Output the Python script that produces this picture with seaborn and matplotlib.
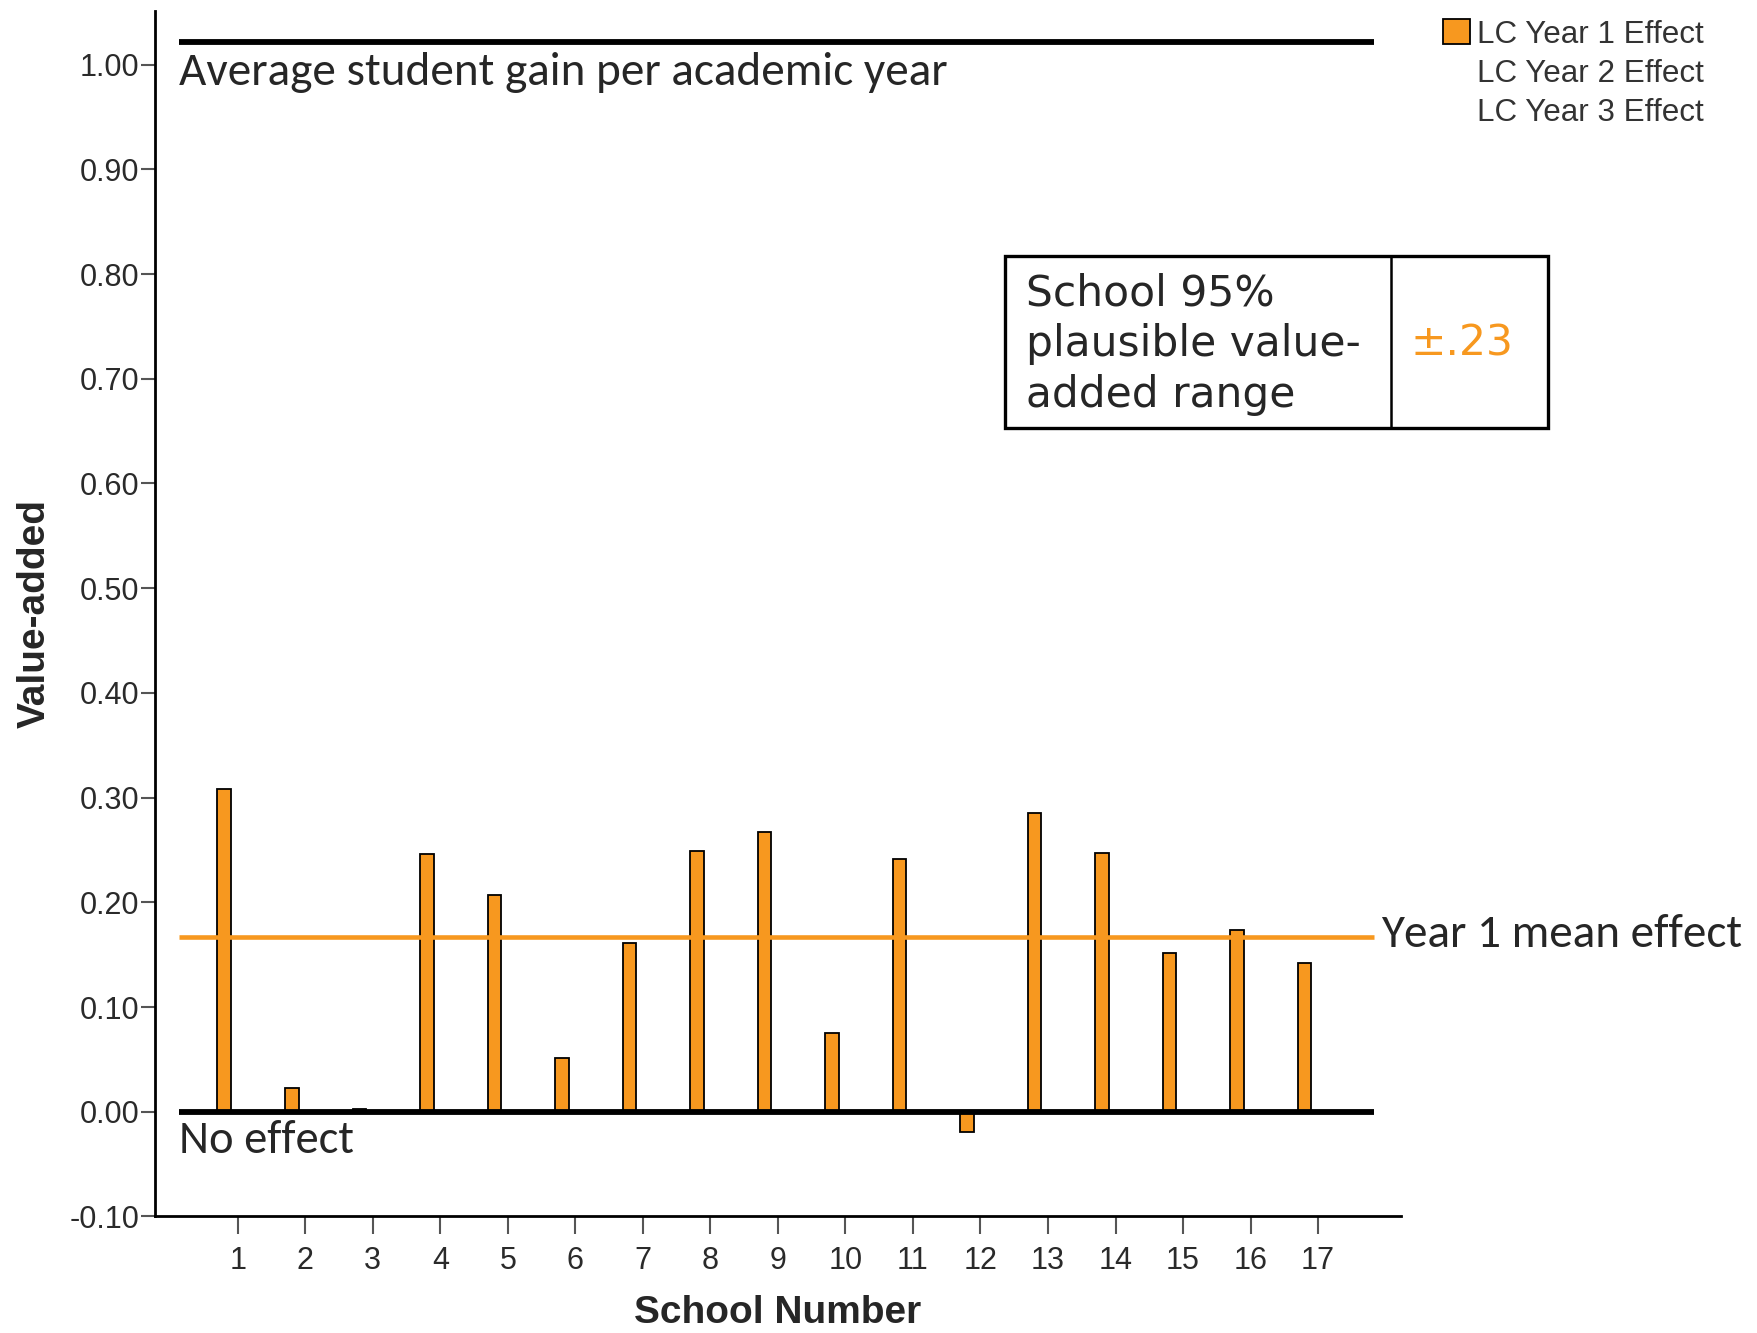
import pandas as pd
import numpy as np
import matplotlib.pyplot as plt
import seaborn as sns
import matplotlib.patches as mpatches

# Valores
schools = [str(i) for i in range(1, 18)]
year1_effect = [0.308, 0.023, 0.003, 0.246, 0.207, 0.051, 0.161, 0.249, 0.267,
                0.075, 0.241, -0.019, 0.285, 0.247, 0.152, 0.174, 0.142]
series = ["LC Year 1 Effect", "LC Year 2 Effect", "LC Year 3 Effect"]
year1_mean = 0.167
avg_gain = 1.022
y_ticks = [-0.10, 0.00, 0.10, 0.20, 0.30, 0.40, 0.50, 0.60, 0.70, 0.80, 0.90, 1.00]

ORANGE = "#F7981F"

df = pd.DataFrame({"School Number": schools,
                   "Serie": series[0],
                   "Value-added": year1_effect})

sns.set_theme(style="white")
plt.rcParams["font.family"] = ["Liberation Sans", "DejaVu Sans"]

fig = plt.figure(figsize=(17.58, 13.33), dpi=100)
ax = fig.add_axes([0.088, 0.0874, 0.709, 0.9042])

sns.barplot(data=df, x="School Number", y="Value-added", hue="Serie",
            hue_order=series, order=schools, width=0.6, dodge=True, saturation=1,
            palette={series[0]: ORANGE, series[1]: "white", series[2]: "white"},
            edgecolor="black", linewidth=1.3, legend=False, ax=ax)

ax.set_xlim(-1.23, 17.23)
ax.set_ylim(-0.10, 1.051)
ax.set_yticks(y_ticks)
ax.set_yticklabels([f"{v:.2f}" for v in y_ticks])

for lab in ax.get_xticklabels() + ax.get_yticklabels():
    lab.set_fontsize(22)
    lab.set_color("#2a2a2a")

ax.tick_params(axis="y", direction="out", length=10, width=1.5, color="#555555",
               pad=1, left=True)
ax.tick_params(axis="x", direction="out", length=13, width=1.5, color="#555555",
               pad=8, bottom=True)

for side in ["top", "right"]:
    ax.spines[side].set_visible(False)
for side in ["left", "bottom"]:
    ax.spines[side].set_color("black")
    ax.spines[side].set_linewidth(2)

ax.set_xlabel("School Number", fontsize=28, fontweight="bold", labelpad=14)
ax.set_ylabel("Value-added", fontsize=28, fontweight="bold", labelpad=12)

# Líneas de referencia
ax.hlines(avg_gain, -0.863, 16.83, color="black", linewidth=4.2, clip_on=False)
ax.hlines(0.0, -0.863, 16.83, color="black", linewidth=4.2, zorder=4)
ax.hlines(year1_mean, -0.863, 16.83, color=ORANGE, linewidth=3.3, zorder=1)

calibri = ["Carlito", "Lato", "DejaVu Sans"]
ax.text(-0.863, 0.992, "Average student gain per academic year", family=calibri,
        fontsize=34, va="center", ha="left")
ax.text(-0.863, -0.027, "No effect", family=calibri, fontsize=33.5, va="center", ha="left")
ax.text(16.93, year1_mean + 0.002, "Year 1 mean effect", family=calibri, fontsize=34,
        va="center", ha="left", clip_on=False)

# Caja del rango plausible
box = mpatches.Rectangle((0.5714, 0.6787), 0.8808 - 0.5714, 0.8083 - 0.6787,
                         transform=fig.transFigure, fill=False, edgecolor="black",
                         linewidth=2.4)
fig.add_artist(box)
fig.add_artist(plt.Line2D([0.7915, 0.7915], [0.6787, 0.8083], transform=fig.transFigure,
                          color="black", linewidth=1.8))
fig.text(0.5836, 0.742, "School 95%\nplausible value-\nadded range",
         family=["DejaVu Sans"], fontsize=30.5, va="center", ha="left", linespacing=1.27)
fig.text(0.8023, 0.742, "±.23", family=["DejaVu Sans"], fontsize=30.5, color=ORANGE,
         va="center", ha="left")

# Leyenda manual
handles = [mpatches.Patch(facecolor=ORANGE, edgecolor="black", linewidth=1.3, label=series[0]),
           mpatches.Patch(facecolor="none", edgecolor="none", label=series[1]),
           mpatches.Patch(facecolor="none", edgecolor="none", label=series[2])]
fig.legend(handles=handles, loc="upper left", bbox_to_anchor=(0.8208, 0.9855),
           frameon=False, fontsize=22.6, handlelength=0.85, handleheight=0.85,
           handletextpad=0.25, labelspacing=0.28, borderpad=0, borderaxespad=0,
           labelcolor="#333333")

fig.savefig("out.png", dpi=100)
